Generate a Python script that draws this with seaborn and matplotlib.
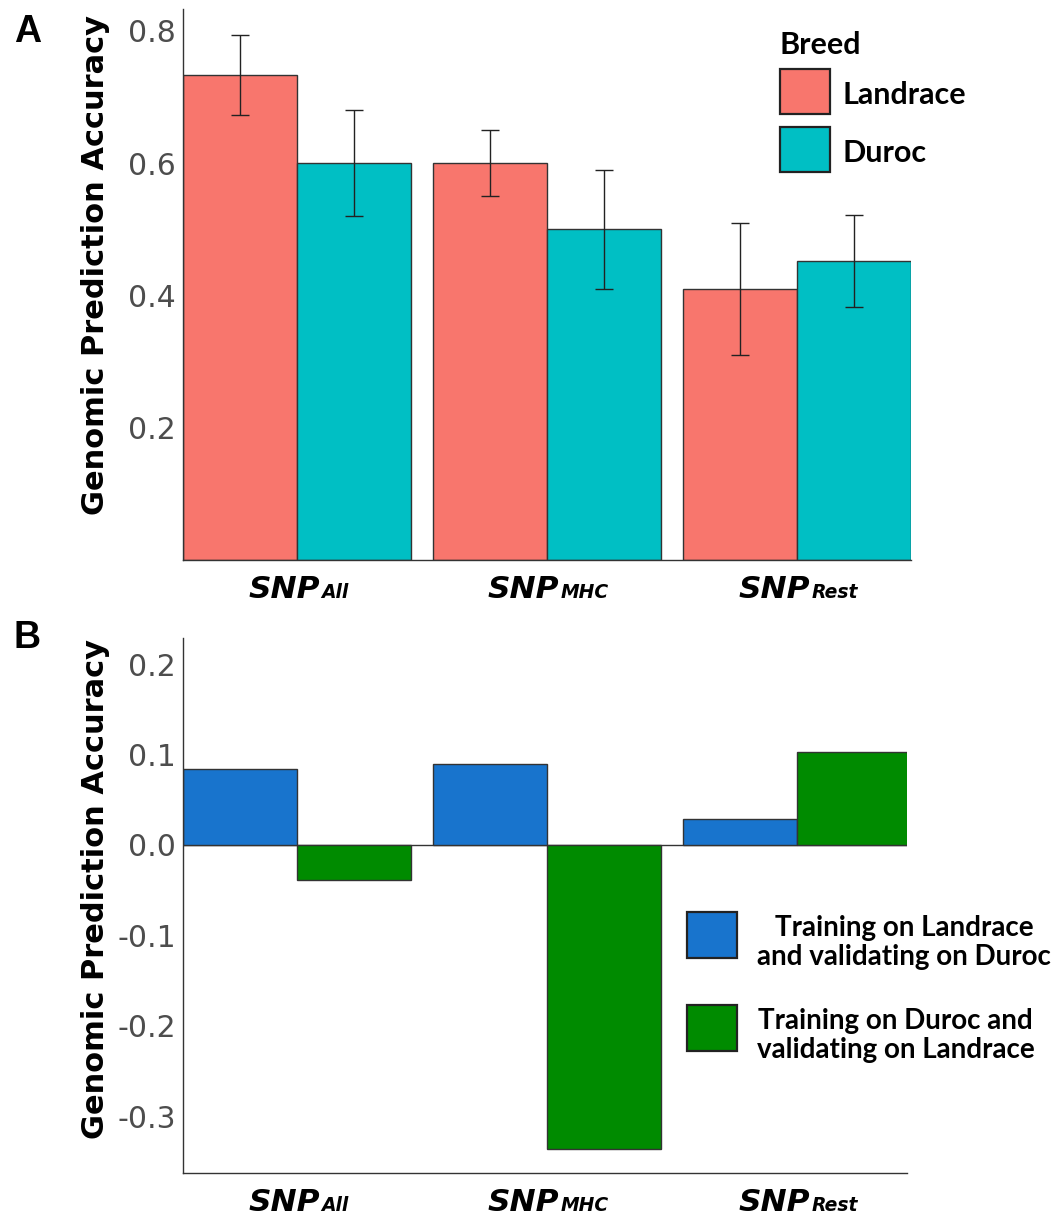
import numpy as np
import pandas as pd
import matplotlib
matplotlib.use("Agg")
import matplotlib.pyplot as plt
from matplotlib.patches import Patch, Rectangle
from matplotlib.legend_handler import HandlerPatch
from matplotlib.offsetbox import TextArea, HPacker, AnnotationBbox
import seaborn as sns

# ---- data ----
snp_sets = ["All", "MHC", "Rest"]
breeds = ["Landrace", "Duroc"]
landrace_acc = [0.733, 0.600, 0.410]
duroc_acc = [0.600, 0.500, 0.452]
landrace_err = [0.060, 0.050, 0.100]
duroc_err = [0.080, 0.090, 0.070]

cross_groups = ["Training on Landrace\nand validating on Duroc",
                "Training on Duroc and\nvalidating on Landrace"]
train_landrace_acc = [0.084, 0.090, 0.029]
train_duroc_acc = [-0.039, -0.336, 0.103]

# ---- style ----
sns.set_theme(style="white")
plt.rcParams["font.family"] = ["DejaVu Sans"]
plt.rcParams["text.color"] = "black"

breed_colors = ["#F8766D", "#00BFC4"]
cross_colors = ["#1874CD", "#008B00"]
tick_color = "#4D4D4D"
spine_color = "#333333"

fig = plt.figure(figsize=(10.56, 12.16), dpi=100)
W, H = 1056, 1216


def ax_rect(l, t, r, b):
    return [l / W, 1 - b / H, (r - l) / W, (b - t) / H]


def snp_ticklabels(ax):
    """SNP set names as bold italic 'SNP' with a subscripted set name."""
    ax.set_xticks(range(len(snp_sets)))
    ax.set_xticklabels([""] * len(snp_sets))
    for i, name in enumerate(snp_sets):
        main = TextArea("SNP", textprops=dict(family="DejaVu Sans", weight="bold",
                                              style="oblique", size=22.5, color="black"))
        sub = TextArea(name, textprops=dict(family="DejaVu Sans", weight="bold",
                                            style="oblique", size=13.5, color="black"))
        box = HPacker(children=[main, sub], align="baseline", pad=0, sep=1)
        ab = AnnotationBbox(box, (i, 0), xycoords=ax.get_xaxis_transform(),
                            box_alignment=(0.5, 1), xybox=(1, -11),
                            boxcoords="offset points", frameon=False, pad=0,
                            annotation_clip=False)
        ax.add_artist(ab)


def style_axis(ax):
    for s in ["top", "right"]:
        ax.spines[s].set_visible(False)
    for s in ["left", "bottom"]:
        ax.spines[s].set_color(spine_color)
        ax.spines[s].set_linewidth(1.0)
    ax.tick_params(axis="y", length=0, pad=5, labelsize=21.5, labelcolor=tick_color)
    ax.tick_params(axis="x", length=0)
    ax.set_xlabel("")
    ax.set_ylabel("")
    snp_ticklabels(ax)
    ax.set_xlim(-0.455, 2.455)


def shifted_patch(dy):
    # legend swatch moved vertically (in points) within its handle box
    def make(legend, orig_handle, xdescent, ydescent, width, height, fontsize):
        return Rectangle((-xdescent, -ydescent + dy), width, height)
    return HandlerPatch(patch_func=make)


# ---- panel A: within-breed accuracy ----
df_a = pd.DataFrame({
    "snp": snp_sets * 2,
    "breed": [breeds[0]] * 3 + [breeds[1]] * 3,
    "acc": landrace_acc + duroc_acc,
    "err": landrace_err + duroc_err,
})
ax1 = fig.add_axes(ax_rect(183, 9, 911, 560))
sns.barplot(data=df_a, x="snp", y="acc", hue="breed", hue_order=breeds,
            palette=breed_colors, width=0.91, gap=0, errorbar=None,
            edgecolor=spine_color, linewidth=1.0, saturation=1, legend=False, ax=ax1)
for cont, breed in zip(ax1.containers, breeds):
    sub = df_a[df_a.breed == breed]
    xs = [p.get_x() + p.get_width() / 2 for p in cont.patches]
    ax1.errorbar(xs, sub["acc"].values, yerr=sub["err"].values, fmt="none",
                 ecolor="#222222", elinewidth=1.0, capsize=6.5, capthick=1.0, zorder=5)
ax1.set_ylim(0, 0.833)
ax1.set_yticks([0.2, 0.4, 0.6, 0.8])
ax1.set_yticklabels(["0.2", "0.4", "0.6", "0.8"])
style_axis(ax1)

legend_a_font = dict(family="Lato", weight="bold", size=22)
handles_a = [Patch(facecolor=c, edgecolor="#222222", linewidth=1.6) for c in breed_colors]
leg_a = ax1.legend(handles_a, breeds, title="Breed", loc="upper left",
                   bbox_to_anchor=(780 / W, 1 - 31 / H), bbox_transform=fig.transFigure,
                   frameon=False, prop=legend_a_font, handlelength=1.63, handleheight=1.889,
                   handletextpad=0.4, labelspacing=0.42, borderpad=0, borderaxespad=0,
                   alignment="left", handler_map={Patch: shifted_patch(2)},
                   labelcolor="black")
leg_a.get_title().set_fontproperties(dict(family="Lato", weight="bold", size=22))
leg_a.get_title().set_color("black")

# ---- panel B: cross-breed accuracy ----
df_b = pd.DataFrame({
    "snp": snp_sets * 2,
    "scheme": [cross_groups[0]] * 3 + [cross_groups[1]] * 3,
    "acc": train_landrace_acc + train_duroc_acc,
})
ax2 = fig.add_axes(ax_rect(183, 638, 907, 1173))
sns.barplot(data=df_b, x="snp", y="acc", hue="scheme", hue_order=cross_groups,
            palette=cross_colors, width=0.91, gap=0, errorbar=None,
            edgecolor=spine_color, linewidth=1.0, saturation=1, legend=False, ax=ax2)
ax2.axhline(0, color=spine_color, linewidth=1.0, zorder=0)
ax2.set_ylim(-0.363, 0.229)
ticks_b = [-0.3, -0.2, -0.1, 0.0, 0.1, 0.2]
ax2.set_yticks(ticks_b)
ax2.set_yticklabels([f"{t:.1f}" for t in ticks_b])
style_axis(ax2)
ax2.set_xlim(-0.455, 2.44)

legend_b_font = dict(family="Lato", weight="bold", size=20)
handles_b = [Patch(facecolor=c, edgecolor="#222222", linewidth=1.6) for c in cross_colors]
leg_b = ax2.legend(handles_b, cross_groups, loc="upper left",
                   bbox_to_anchor=(687 / W, 1 - 915 / H), bbox_transform=fig.transFigure,
                   frameon=False, prop=legend_b_font, handlelength=1.8, handleheight=2.17,
                   handletextpad=0.72, labelspacing=1.35, borderpad=0, borderaxespad=0,
                   handler_map={Patch: shifted_patch(6.8)}, labelcolor="black")
for t in leg_b.get_texts():
    t.set_multialignment("center")
    t.set_linespacing(1.15)

# ---- axis titles and panel letters ----
ylab = dict(rotation=90, ha="center", va="center", fontsize=22, fontweight="bold",
            color="black", family="DejaVu Sans")
fig.text(96 / W, 1 - 265 / H, "Genomic Prediction Accuracy", **ylab)
fig.text(96 / W, 1 - 889 / H, "Genomic Prediction Accuracy", **ylab)
letter = dict(fontsize=27, fontweight="bold", va="center", ha="left",
              family="Liberation Sans", color="black")
fig.text(14 / W, 1 - 31.5 / H, "A", **letter)
fig.text(14 / W, 1 - 638.5 / H, "B", **letter)

fig.savefig("out.png", dpi=100, facecolor="white")
